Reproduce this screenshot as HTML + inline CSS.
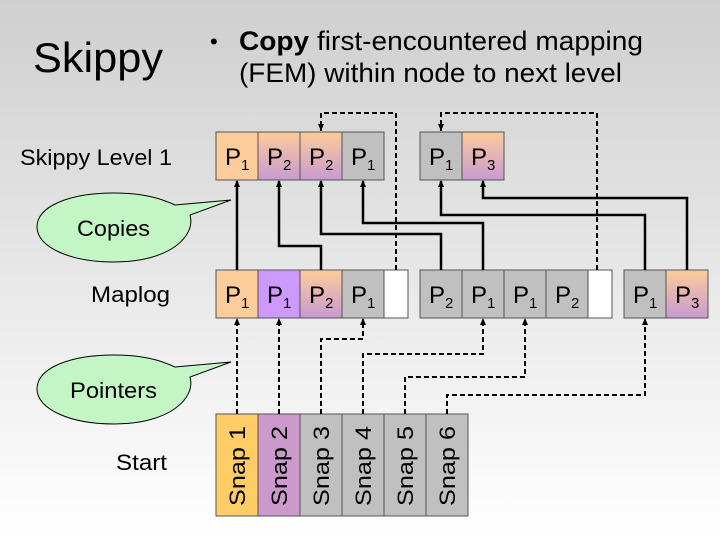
<!DOCTYPE html>
<html><head><meta charset="utf-8"><style>
html,body{margin:0;padding:0;width:720px;height:540px;overflow:hidden}
svg{display:block;font-family:"Liberation Sans",Arial,sans-serif}
</style></head><body>
<svg width="720" height="540" viewBox="0 0 720 540" xmlns="http://www.w3.org/2000/svg">
<defs>
<linearGradient id="bg" x1="0" y1="0" x2="0" y2="1"><stop offset="0" stop-color="#cfcfcf"/><stop offset="1" stop-color="#ffffff"/></linearGradient>
<linearGradient id="op" x1="0" y1="0" x2="0" y2="1"><stop offset="0" stop-color="#fccc9a"/><stop offset="1" stop-color="#c99ad2"/></linearGradient>
<marker id="au" markerWidth="8" markerHeight="8" refX="4" refY="1" markerUnits="userSpaceOnUse"><path d="M1,7 L4,0 L7,7z" fill="#000"/></marker>
<marker id="ad" markerWidth="8" markerHeight="8" refX="4" refY="7" markerUnits="userSpaceOnUse"><path d="M1,0 L4,7 L7,0z" fill="#000"/></marker>
</defs>
<rect width="720" height="540" fill="url(#bg)"/>
<text x="33" y="72" font-size="42" textLength="130" lengthAdjust="spacingAndGlyphs">Skippy</text>
<text x="210" y="49" font-size="22">•</text>
<text x="239" y="50" font-size="27" textLength="404" lengthAdjust="spacingAndGlyphs"><tspan font-weight="bold">Copy</tspan> first-encountered mapping</text>
<text x="239" y="82" font-size="27" textLength="383" lengthAdjust="spacingAndGlyphs">(FEM) within node to next level</text>
<text x="20" y="165" font-size="22" textLength="152" lengthAdjust="spacingAndGlyphs">Skippy Level 1</text>
<text x="91" y="302" font-size="22" textLength="79" lengthAdjust="spacingAndGlyphs">Maplog</text>
<text x="116" y="470" font-size="22" textLength="51" lengthAdjust="spacingAndGlyphs">Start</text>
<g stroke="#000" stroke-width="1" fill="#c4f5c4">
<path d="M231,200 L190,215 C196,236 170,262 114,262 C70,262 37,247 37,227 C37,206 70,193 114,193 C145,193 162,199 175,205 Z"/>
<path d="M231,362 L190,377 C196,398 170,424 114,424 C70,424 37,409 37,389 C37,368 70,355 114,355 C145,355 162,361 175,367 Z"/>
</g>
<text x="77" y="236" font-size="22" textLength="73" lengthAdjust="spacingAndGlyphs">Copies</text>
<text x="70" y="398" font-size="22" textLength="87" lengthAdjust="spacingAndGlyphs">Pointers</text>
<g stroke="#555" stroke-width="1">
<rect x="216" y="132" width="42" height="48" fill="#fccc9a"/>
<rect x="258" y="132" width="42" height="48" fill="url(#op)"/>
<rect x="300" y="132" width="42" height="48" fill="url(#op)"/>
<rect x="342" y="132" width="42" height="48" fill="#c0c0c0"/>
<rect x="420" y="132" width="42" height="48" fill="#c0c0c0"/>
<rect x="462" y="132" width="42" height="48" fill="url(#op)"/>
<rect x="216" y="270" width="42" height="48" fill="#fccc9a"/>
<rect x="258" y="270" width="42" height="48" fill="#cc99ff"/>
<rect x="300" y="270" width="42" height="48" fill="url(#op)"/>
<rect x="342" y="270" width="42" height="48" fill="#c0c0c0"/>
<rect x="384" y="270" width="24" height="48" fill="#fff"/>
<rect x="420" y="270" width="42" height="48" fill="#c0c0c0"/>
<rect x="462" y="270" width="42" height="48" fill="#c0c0c0"/>
<rect x="504" y="270" width="42" height="48" fill="#c0c0c0"/>
<rect x="546" y="270" width="42" height="48" fill="#c0c0c0"/>
<rect x="588" y="270" width="24" height="48" fill="#fff"/>
<rect x="624" y="270" width="42" height="48" fill="#c0c0c0"/>
<rect x="666" y="270" width="42" height="48" fill="url(#op)"/>
<rect x="216" y="414" width="42" height="102" fill="#ffcc66"/>
<rect x="258" y="414" width="42" height="102" fill="#cc99cc"/>
<rect x="300" y="414" width="42" height="102" fill="#c0c0c0"/>
<rect x="342" y="414" width="42" height="102" fill="#c0c0c0"/>
<rect x="384" y="414" width="42" height="102" fill="#c0c0c0"/>
<rect x="426" y="414" width="42" height="102" fill="#c0c0c0"/>
</g>
<g font-size="24">
<text x="225" y="165">P<tspan font-size="15" dy="5">1</tspan></text>
<text x="267" y="165">P<tspan font-size="15" dy="5">2</tspan></text>
<text x="309" y="165">P<tspan font-size="15" dy="5">2</tspan></text>
<text x="351" y="165">P<tspan font-size="15" dy="5">1</tspan></text>
<text x="429" y="165">P<tspan font-size="15" dy="5">1</tspan></text>
<text x="471" y="165">P<tspan font-size="15" dy="5">3</tspan></text>
<text x="225" y="303">P<tspan font-size="15" dy="5">1</tspan></text>
<text x="267" y="303">P<tspan font-size="15" dy="5">1</tspan></text>
<text x="309" y="303">P<tspan font-size="15" dy="5">2</tspan></text>
<text x="351" y="303">P<tspan font-size="15" dy="5">1</tspan></text>
<text x="429" y="303">P<tspan font-size="15" dy="5">2</tspan></text>
<text x="471" y="303">P<tspan font-size="15" dy="5">1</tspan></text>
<text x="513" y="303">P<tspan font-size="15" dy="5">1</tspan></text>
<text x="555" y="303">P<tspan font-size="15" dy="5">2</tspan></text>
<text x="633" y="303">P<tspan font-size="15" dy="5">1</tspan></text>
<text x="675" y="303">P<tspan font-size="15" dy="5">3</tspan></text>
</g>
<g font-size="22">
<text transform="translate(245,506) rotate(-90)" textLength="80" lengthAdjust="spacingAndGlyphs">Snap 1</text>
<text transform="translate(287,506) rotate(-90)" textLength="80" lengthAdjust="spacingAndGlyphs">Snap 2</text>
<text transform="translate(329,506) rotate(-90)" textLength="80" lengthAdjust="spacingAndGlyphs">Snap 3</text>
<text transform="translate(371,506) rotate(-90)" textLength="80" lengthAdjust="spacingAndGlyphs">Snap 4</text>
<text transform="translate(413,506) rotate(-90)" textLength="80" lengthAdjust="spacingAndGlyphs">Snap 5</text>
<text transform="translate(455,506) rotate(-90)" textLength="80" lengthAdjust="spacingAndGlyphs">Snap 6</text>
</g>
<g stroke="#000" stroke-width="2.5" fill="none" marker-end="url(#au)">
<path d="M237,270 V181"/>
<path d="M321,270 V246 H279 V181"/>
<path d="M441,270 V234 H321 V181"/>
<path d="M483,270 V223 H363 V181"/>
<path d="M645,270 V215 H441 V181"/>
<path d="M687,270 V198 H483 V181"/>
</g>
<g stroke="#000" stroke-width="2" fill="none" stroke-dasharray="5,3">
<path d="M396,270 V113 H321 V131" marker-end="url(#ad)"/>
<path d="M597,270 V113 H441 V131" marker-end="url(#ad)"/>
<path d="M237,414 V319" marker-end="url(#au)"/>
<path d="M279,414 V319" marker-end="url(#au)"/>
<path d="M321,414 V339 H363 V319" marker-end="url(#au)"/>
<path d="M363,414 V354 H483 V319" marker-end="url(#au)"/>
<path d="M405,414 V377 H525 V319" marker-end="url(#au)"/>
<path d="M447,414 V395 H645 V319" marker-end="url(#au)"/>
</g>
</svg>
</body></html>
